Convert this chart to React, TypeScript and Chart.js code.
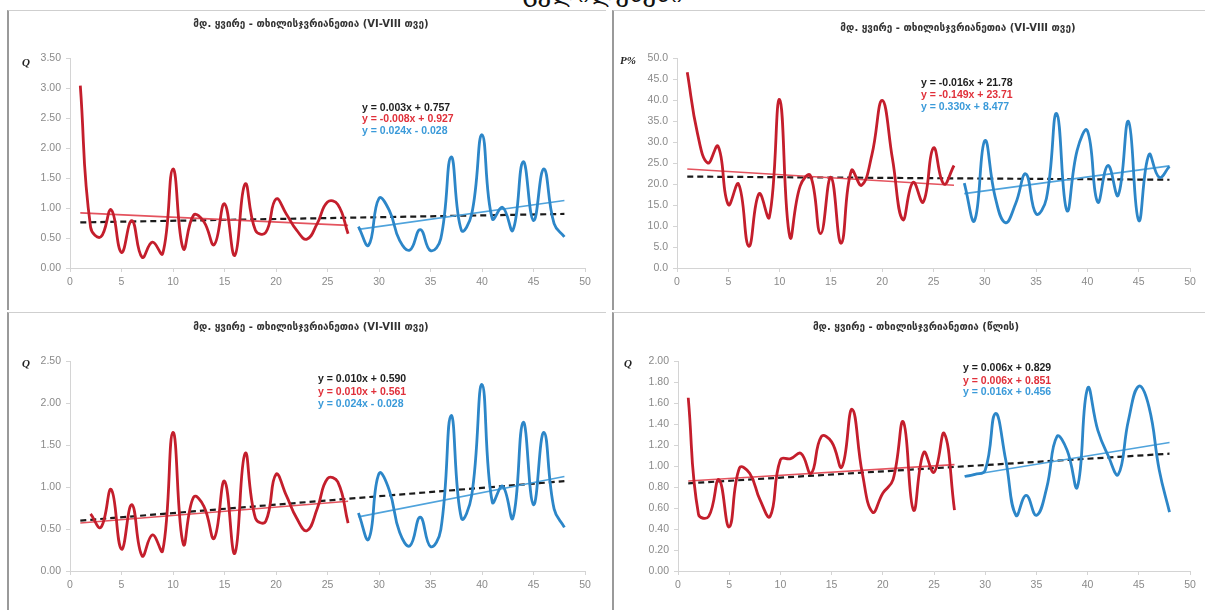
import React, { useEffect, useRef } from "react";
import { Chart, registerables } from "chart.js";
Chart.register(...registerables);

// ---------- data ----------
const redYears = [1, 2, 3, 4, 5, 6, 7, 8, 9, 10, 11, 12, 13, 14, 15, 16, 17, 18, 19, 20, 21, 22, 23, 24, 25, 26, 27];
const redYearsNo1 = [2, 3, 4, 5, 6, 7, 8, 9, 10, 11, 12, 13, 14, 15, 16, 17, 18, 19, 20, 21, 22, 23, 24, 25, 26, 27];
const blueYears = [28, 29, 30, 31, 32, 33, 34, 35, 36, 37, 38, 39, 40, 41, 42, 43, 44, 45, 46, 47, 48];

const qSummerRed = [3.04, 0.68, 0.52, 0.97, 0.26, 0.79, 0.18, 0.43, 0.24, 1.65, 0.32, 0.88, 0.77, 0.39, 1.07, 0.21, 1.40, 0.63, 0.59, 1.15, 0.90, 0.63, 0.48, 0.74, 1.10, 1.06, 0.57];
const qSummerBlue = [0.69, 0.38, 1.16, 0.96, 0.46, 0.30, 0.64, 0.29, 0.49, 1.85, 0.63, 0.90, 2.22, 0.82, 1.01, 0.63, 1.77, 0.79, 1.65, 0.74, 0.52];

const pRed = [46.6, 32.0, 25.0, 29.0, 15.1, 20.0, 5.2, 17.7, 12.1, 40.1, 7.4, 19.5, 22.0, 8.2, 21.6, 5.9, 23.2, 19.7, 27.0, 39.9, 26.0, 11.5, 20.4, 15.7, 28.6, 20.0, 24.4];
const pBlue = [20.2, 11.3, 30.3, 17.0, 10.8, 15.3, 22.4, 12.9, 16.5, 36.8, 13.7, 28.0, 32.7, 15.7, 24.4, 17.3, 34.9, 11.3, 27.0, 21.6, 24.2];

const qSummer2Red = [0.68, 0.52, 0.97, 0.26, 0.79, 0.18, 0.43, 0.24, 1.65, 0.32, 0.88, 0.77, 0.39, 1.07, 0.21, 1.40, 0.63, 0.59, 1.15, 0.90, 0.63, 0.48, 0.74, 1.10, 1.06, 0.57];
const qSummer2Blue = [0.69, 0.38, 1.16, 0.96, 0.46, 0.30, 0.64, 0.29, 0.49, 1.85, 0.63, 0.90, 2.22, 0.82, 1.01, 0.63, 1.77, 0.79, 1.65, 0.74, 0.52];

const qYearRed = [1.65, 0.54, 0.52, 0.87, 0.42, 0.98, 0.93, 0.68, 0.52, 1.06, 1.07, 1.12, 0.93, 1.28, 1.23, 0.99, 1.54, 0.93, 0.56, 0.74, 0.87, 1.42, 0.58, 1.13, 0.94, 1.31, 0.58];
const qYearBlue = [0.90, 0.92, 0.96, 1.50, 1.06, 0.53, 0.72, 0.53, 0.79, 1.28, 1.15, 0.80, 1.74, 1.34, 1.10, 0.92, 1.44, 1.76, 1.56, 0.96, 0.56];

// trend coefficients [slope, intercept]
const trend1 = { all: [0.003, 0.757], red: [-0.008, 0.927], blue: [0.024, -0.028] };
const trend2 = { all: [-0.016, 21.78], red: [-0.149, 23.71], blue: [0.330, 8.477] };
const trend3 = { all: [0.010, 0.590], red: [0.010, 0.561], blue: [0.024, -0.028] };
const trend4 = { all: [0.006, 0.829], red: [0.006, 0.851], blue: [0.016, 0.456] };

const eq1 = ["y = 0.003x + 0.757", "y = -0.008x + 0.927", "y = 0.024x - 0.028"];
const eq2 = ["y = -0.016x + 21.78", "y = -0.149x + 23.71", "y = 0.330x + 8.477"];
const eq3 = ["y = 0.010x + 0.590", "y = 0.010x + 0.561", "y = 0.024x - 0.028"];
const eq4 = ["y = 0.006x + 0.829", "y = 0.006x + 0.851", "y = 0.016x + 0.456"];

const titleSummer = "მდ. ყვირე - თხილისჯვრიანეთია (VI-VIII თვე)";
const titleYear = "მდ. ყვირე - თხილისჯვრიანეთია (წლის)";

// ---------- styles ----------
const RED = "#c41e2c";
const BLUE = "#2c86c8";
const RED_T = "#e4535e";
const BLUE_T = "#4fa3dc";
const EQ_COLORS = ["#1e1e1e", "#e0303a", "#3a9ad9"];

type Box = { x: number; y: number; w: number; h: number };
type Plot = { left: number; right: number; top: number; bottom: number };
type Cfg = {
  box: Box;
  plot: Plot;
  redX: number[];
  redY: number[];
  blueX: number[];
  blueY: number[];
  trend: { all: number[]; red: number[]; blue: number[] };
  yMax: number;
  yStep: number;
  dec: number;
};

const pts = (xs: number[], ys: number[]) => xs.map((x, i) => ({ x, y: ys[i] }));
const line = (c: number[], x0: number, x1: number) => [
  { x: x0, y: c[0] * x0 + c[1] },
  { x: x1, y: c[0] * x1 + c[1] },
];

function Panel({ cfg }: { cfg: Cfg }) {
  const ref = useRef<HTMLCanvasElement>(null);
  useEffect(() => {
    const { box, plot } = cfg;
    const padTop = plot.top - box.y;
    const padRight = box.x + box.w - plot.right;
    const yW = plot.left - box.x;
    const xH = box.y + box.h - plot.bottom;
    const tickFont = { family: "'Liberation Sans', Arial, sans-serif", size: 10.5 };
    const chart = new Chart(ref.current as HTMLCanvasElement, {
      type: "line",
      data: {
        datasets: [
          { data: pts(cfg.redX, cfg.redY), borderColor: RED, borderWidth: 2.8, pointRadius: 0, tension: 0.45, fill: false },
          { data: pts(cfg.blueX, cfg.blueY), borderColor: BLUE, borderWidth: 2.8, pointRadius: 0, tension: 0.45, fill: false },
          { data: line(cfg.trend.red, 1, 27), borderColor: RED_T, borderWidth: 1.6, pointRadius: 0, tension: 0 },
          { data: line(cfg.trend.blue, 28, 48), borderColor: BLUE_T, borderWidth: 1.6, pointRadius: 0, tension: 0 },
          { data: line(cfg.trend.all, 1, 48), borderColor: "#1a1a1a", borderWidth: 2.2, borderDash: [6, 4], pointRadius: 0, tension: 0 },
        ],
      },
      options: {
        animation: false,
        responsive: false,
        devicePixelRatio: 1,
        layout: { padding: { top: padTop, right: padRight, left: 0, bottom: 0 } },
        plugins: { legend: { display: false }, tooltip: { enabled: false }, title: { display: false } },
        scales: {
          x: {
            type: "linear",
            min: 0,
            max: 50,
            ticks: { stepSize: 5, font: tickFont, color: "#8a8a8a", padding: 4, maxRotation: 0 },
            grid: { display: true, drawOnChartArea: false, drawTicks: true, tickLength: 4, color: "#d4d4d4" },
            border: { color: "#d4d4d4" },
            afterFit: (s: any) => {
              s.height = xH;
            },
          },
          y: {
            type: "linear",
            min: 0,
            max: cfg.yMax,
            ticks: {
              stepSize: cfg.yStep,
              font: tickFont,
              color: "#8a8a8a",
              padding: 5,
              callback: (v: any) => Number(v).toFixed(cfg.dec),
            },
            grid: { display: true, drawOnChartArea: false, drawTicks: true, tickLength: 4, color: "#d4d4d4" },
            border: { color: "#d4d4d4" },
            afterFit: (s: any) => {
              s.width = yW;
            },
          },
        },
      },
    } as any);
    return () => chart.destroy();
  }, []);
  return (
    <canvas
      ref={ref}
      width={cfg.box.w}
      height={cfg.box.h}
      style={{ position: "absolute", left: cfg.box.x, top: cfg.box.y, width: cfg.box.w, height: cfg.box.h }}
    />
  );
}

const panels: Cfg[] = [
  {
    box: { x: 7, y: 10, w: 599, h: 300 },
    plot: { left: 70, right: 585, top: 58, bottom: 268 },
    redX: redYears, redY: qSummerRed, blueX: blueYears, blueY: qSummerBlue,
    trend: trend1, yMax: 3.5, yStep: 0.5, dec: 2,
  },
  {
    box: { x: 612, y: 10, w: 593, h: 300 },
    plot: { left: 677, right: 1190, top: 58, bottom: 268 },
    redX: redYears, redY: pRed, blueX: blueYears, blueY: pBlue,
    trend: trend2, yMax: 50, yStep: 5, dec: 1,
  },
  {
    box: { x: 7, y: 312, w: 599, h: 298 },
    plot: { left: 70, right: 585, top: 361, bottom: 571 },
    redX: redYearsNo1, redY: qSummer2Red, blueX: blueYears, blueY: qSummer2Blue,
    trend: trend3, yMax: 2.5, yStep: 0.5, dec: 2,
  },
  {
    box: { x: 612, y: 312, w: 593, h: 298 },
    plot: { left: 678, right: 1190, top: 361, bottom: 571 },
    redX: redYears, redY: qYearRed, blueX: blueYears, blueY: qYearBlue,
    trend: trend4, yMax: 2.0, yStep: 0.2, dec: 2,
  },
];

const titles = [
  { text: titleSummer, cx: 311, cy: 24 },
  { text: titleSummer, cx: 958, cy: 28 },
  { text: titleSummer, cx: 311, cy: 327 },
  { text: titleYear, cx: 916, cy: 327 },
];

const equations = [
  { lines: eq1, x: 362, ys: [107, 118, 130] },
  { lines: eq2, x: 921, ys: [82, 94, 106] },
  { lines: eq3, x: 318, ys: [378, 391, 403] },
  { lines: eq4, x: 963, ys: [367, 380, 391] },
];

const axisTitles = [
  { text: "Q", x: 22, y: 62 },
  { text: "P%", x: 620, y: 60 },
  { text: "Q", x: 22, y: 363 },
  { text: "Q", x: 624, y: 363 },
];

export default function App() {
  return (
    <div style={{ position: "fixed", left: 0, top: 0, width: 1205, height: 610, overflow: "hidden", background: "#fff" }}>
      <div
        style={{
          position: "absolute", left: 0, width: 1205, top: -20, textAlign: "center",
          fontFamily: "'DejaVu Serif', serif", fontSize: 24, color: "#111", whiteSpace: "nowrap",
        }}
      >
        ცვლილებები
      </div>
      {panels.map((p, i) => (
        <div
          key={"b" + i}
          style={{
            position: "absolute", left: p.box.x, top: p.box.y, width: p.box.w, height: p.box.h,
            boxSizing: "border-box", borderTop: "1px solid #cfcfcf", borderLeft: "2px solid #9a9a9a",
          }}
        />
      ))}
      {panels.map((p, i) => (
        <Panel key={"p" + i} cfg={p} />
      ))}
      {titles.map((t, i) => (
        <div
          key={"t" + i}
          style={{
            position: "absolute", left: t.cx - 250, width: 500, top: t.cy - 7, textAlign: "center",
            fontFamily: "'DejaVu Sans', sans-serif", fontWeight: "bold", fontSize: 10, color: "#333", whiteSpace: "nowrap", lineHeight: "14px",
          }}
        >
          {t.text}
        </div>
      ))}
      {equations.map((e, i) =>
        e.lines.map((l, j) => (
          <div
            key={"e" + i + j}
            style={{
              position: "absolute", left: e.x, top: e.ys[j] - 6, fontFamily: "'Liberation Sans', Arial, sans-serif",
              fontWeight: "bold", fontSize: 10.5, color: EQ_COLORS[j], whiteSpace: "nowrap", lineHeight: "12px",
            }}
          >
            {l}
          </div>
        ))
      )}
      {axisTitles.map((a, i) => (
        <div
          key={"a" + i}
          style={{
            position: "absolute", left: a.x, top: a.y - 7, fontFamily: "'Liberation Serif', serif", fontWeight: "bold",
            fontStyle: "italic", fontSize: 11, color: "#222", whiteSpace: "nowrap", lineHeight: "14px",
          }}
        >
          {a.text}
        </div>
      ))}
    </div>
  );
}
